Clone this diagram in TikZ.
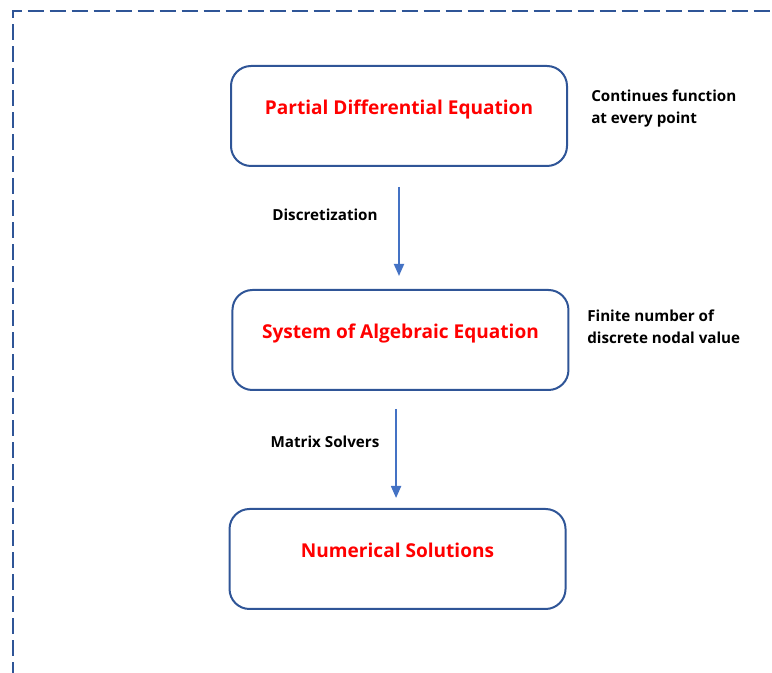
\documentclass[tikz,border=0pt]{standalone}
\usepackage{fontspec}
\setmainfont{Open Sans}
\usepackage{xcolor}
\definecolor{cFrame}{HTML}{2F5597}
\definecolor{cArrow}{HTML}{4472C4}
\definecolor{cTitle}{HTML}{FF0000}
\usepackage{tikz}
\usetikzlibrary{positioning,arrows.meta}
\tikzset{
  node-box/.style={draw=cFrame,line width=1.5pt,rounded corners=15pt,
    minimum height=75pt,minimum width=252pt,align=center,
    font=\fontsize{14.3}{17}\selectfont\bfseries,text=cTitle,
    text height=10pt,text depth=12pt},
  node-note/.style={inner sep=0pt,align=left,
    font=\fontsize{11.4}{16.5}\selectfont\bfseries},
  arrow/.style={-{Triangle[length=9pt,width=7.5pt]},line width=1.4pt,draw=cArrow},
  frame/.style={draw=cFrame,line width=1.5pt,dash pattern=on 12pt off 4.5pt},
}

\begin{document}
\begin{tikzpicture}[x=0.75pt,y=-0.75pt]
  \clip (0,0) rectangle (772,673);
  \draw[frame] (12.5,700) -- (12.5,11) -- (800,11);

  \node[node-box] (pde) at (399,116) {Partial Differential Equation};
  \node[node-box,below=91.5pt of pde,xshift=1.1pt] (sae) {System of Algebraic Equation};
  \node[node-box,below=87.75pt of sae,xshift=-2.2pt] (sol) {Numerical Solutions};

  \draw[arrow,shorten <=15pt,shorten >=9.75pt] (pde.south) -- (pde.south |- sae.north);
  \draw[arrow,shorten <=13.5pt,shorten >=7.5pt]
    ([xshift=-1.1pt]sol.north |- sae.south) -- ([xshift=-1.1pt]sol.north);

  \node[node-note] (disc) at (325,215) {Discretization};
  \node[node-note] (solver) at (325,442) {Matrix Solvers};
  \node[node-note,anchor=west] (pde-note) at (591,109) {Continues function\\at every point};
  \node[node-note,anchor=west] (sae-note) at (587,327) {Finite number of\\discrete nodal value};
\end{tikzpicture}
\end{document}
